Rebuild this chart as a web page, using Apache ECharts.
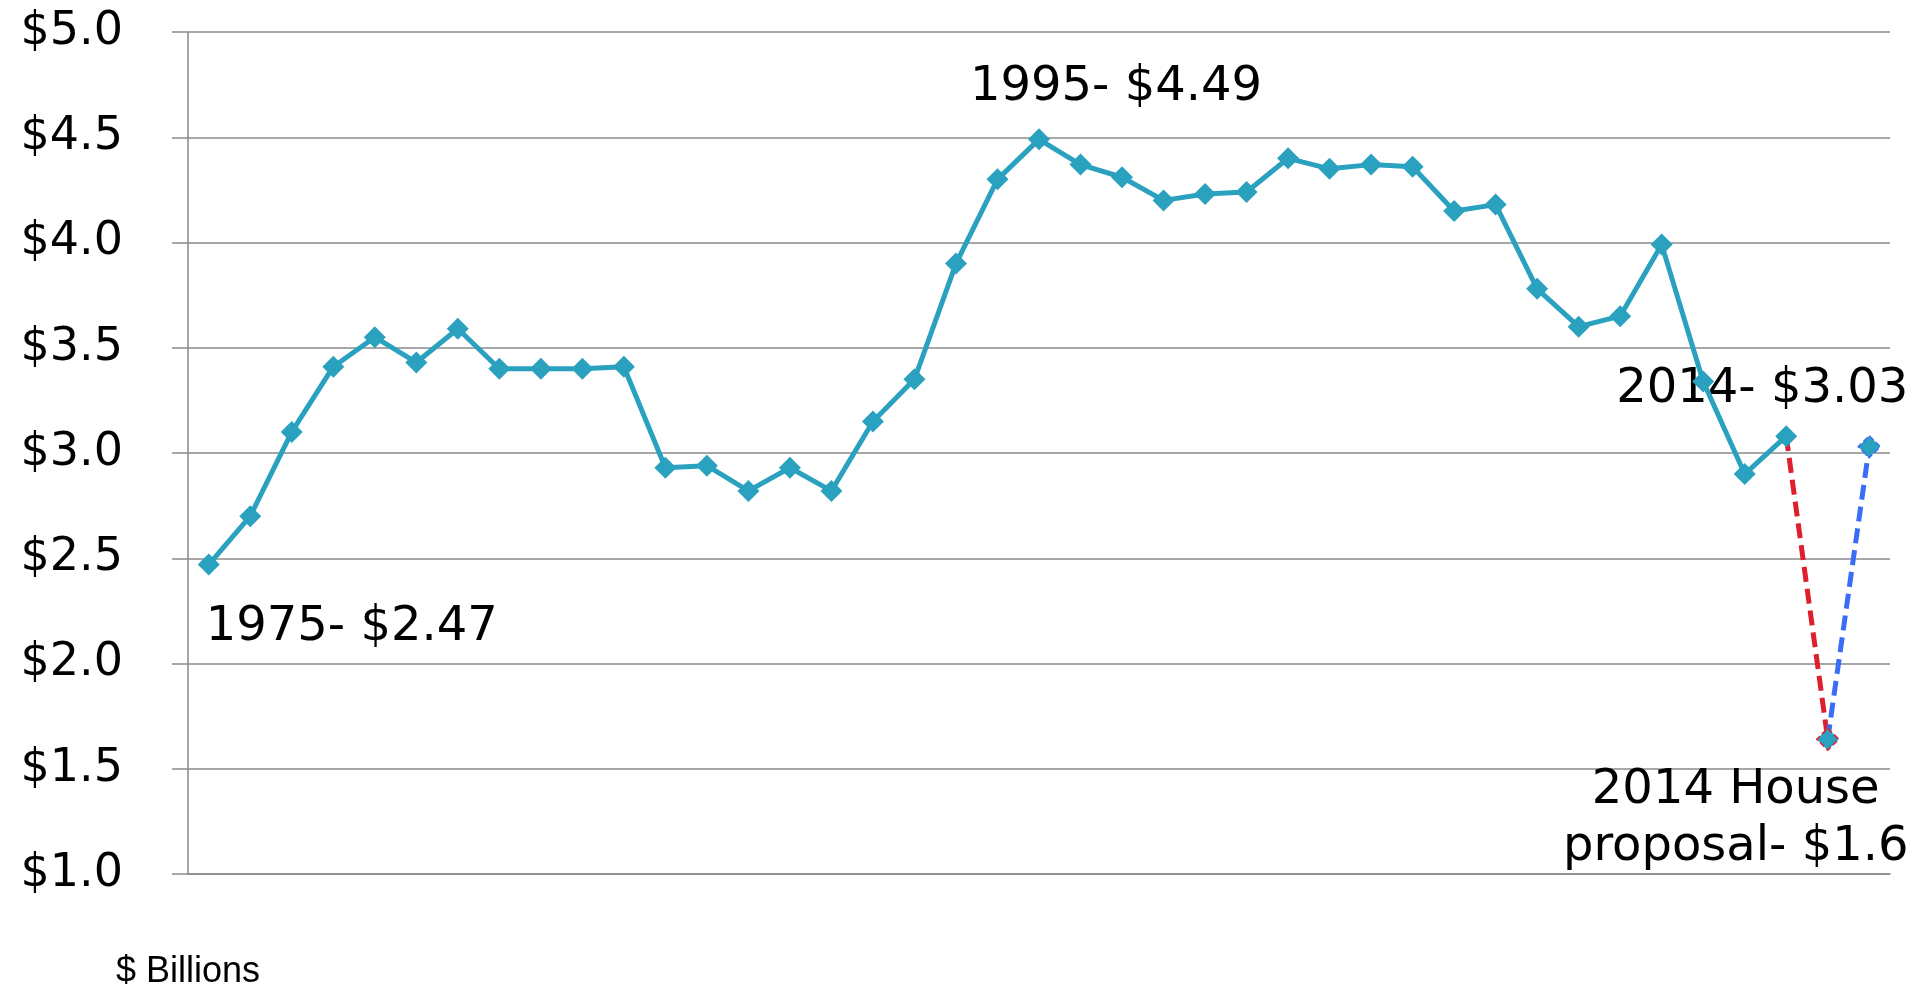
<!DOCTYPE html>
<html>
<head>
<meta charset="utf-8">
<script src="https://cdn.jsdelivr.net/npm/echarts@6/dist/echarts.min.js"></script>
<style>
html,body{margin:0;padding:0;background:#fff;}
#chart{width:1917px;height:989px;}
</style>
</head>
<body>
<div id="chart"></div>
<script>
// ---- data ----
const years = ['1975','1976','1977','1978','1979','1980','1981','1982','1983','1984','1985','1986','1987','1988','1989','1990','1991','1992','1993','1994','1995','1996','1997','1998','1999','2000','2001','2002','2003','2004','2005','2006','2007','2008','2009','2010','2011','2012','2013'];
const funding = [2.47,2.70,3.10,3.41,3.55,3.43,3.59,3.40,3.40,3.40,3.41,2.93,2.94,2.82,2.93,2.82,3.15,3.35,3.90,4.30,4.49,4.37,4.31,4.20,4.23,4.24,4.40,4.35,4.37,4.36,4.15,4.18,3.78,3.60,3.65,3.99,3.34,2.90,3.08];
const extraCategories = ['2014 House proposal', '2014'];
const houseProposal = 1.64;
const final2014 = 3.03;
const yTicks = [1.0, 1.5, 2.0, 2.5, 3.0, 3.5, 4.0, 4.5, 5.0];
const annotationText = {
  start: '1975- $2.47',
  peak: '1995- $4.49',
  final: '2014- $3.03',
  house: '2014 House\nproposal- $1.6'
};

// ---- build ----
const categories = years.concat(extraCategories);
const n = categories.length;
const TEAL = '#2aa1bf';
const RED = '#df1f2d';
const BLUE = '#3b6cf8';
const GRID = '#8a8a8a';
const annFont = {fontFamily: 'DejaVu Sans', fontSize: 48, color: '#000'};

function lbl(text, dx, dy, extra) {
  return Object.assign({
    show: true, position: 'inside', align: 'center', verticalAlign: 'middle',
    offset: [dx, dy], formatter: text
  }, annFont, extra || {});
}

const mainData = funding.map((v, i) => {
  if (i === 0) return {value: v, label: lbl(annotationText.start, 143, 63)};
  if (years[i] === '1995') return {value: v, label: lbl(annotationText.peak, 77, -52)};
  return v;
});
while (mainData.length < n) mainData.push(null);

const redData = new Array(n).fill(null);
redData[funding.length - 1] = {value: funding[funding.length - 1], symbol: 'none'};
redData[funding.length] = {value: houseProposal, label: lbl(annotationText.house, -92, 80, {lineHeight: 57})};

const blueData = new Array(n).fill(null);
blueData[funding.length] = {value: houseProposal, symbol: 'none'};
blueData[funding.length + 1] = {value: final2014, label: lbl(annotationText.final, -107, -57)};

const chart = echarts.init(document.getElementById('chart'));
chart.setOption({
  animation: false,
  backgroundColor: '#fff',
  grid: {left: 188, right: 27, top: 32, bottom: 115, containLabel: false, outerBoundsMode: 'none'},
  xAxis: {
    type: 'category',
    data: categories,
    boundaryGap: true,
    axisLine: {show: true, lineStyle: {color: GRID, width: 1.5}},
    axisTick: {show: false},
    axisLabel: {show: false},
    splitLine: {show: false}
  },
  yAxis: {
    type: 'value',
    min: yTicks[0], max: yTicks[yTicks.length - 1], interval: 0.5,
    name: '$ Billions',
    nameLocation: 'start',
    nameGap: 80,
    nameTextStyle: {fontFamily: 'Liberation Sans', fontSize: 36, color: '#000', align: 'center', verticalAlign: 'top'},
    axisLine: {show: true, lineStyle: {color: GRID, width: 1.5}},
    axisTick: {show: true, inside: false, length: 16, lineStyle: {color: GRID, width: 1.5}},
    axisLabel: {
      margin: 65,
      fontFamily: 'DejaVu Sans', fontSize: 46, color: '#000',
      formatter: v => '$' + v.toFixed(1)
    },
    splitLine: {show: true, lineStyle: {color: GRID, width: 1.5}}
  },
  series: [
    {
      name: 'red', type: 'line', data: redData, z: 2,
      symbol: 'diamond', symbolSize: 22,
      itemStyle: {color: TEAL, borderColor: RED, borderWidth: 1.5, borderType: 'dashed'},
      lineStyle: {color: RED, width: 5, type: [15, 7]},
      connectNulls: false
    },
    {
      name: 'blue', type: 'line', data: blueData, z: 2,
      symbol: 'diamond', symbolSize: 22,
      itemStyle: {color: TEAL, borderColor: BLUE, borderWidth: 1.5, borderType: 'dashed'},
      lineStyle: {color: BLUE, width: 5, type: [15, 7]},
      connectNulls: false
    },
    {
      name: 'funding', type: 'line', data: mainData, z: 3,
      symbol: 'diamond', symbolSize: 22,
      itemStyle: {color: TEAL},
      lineStyle: {color: TEAL, width: 5},
      connectNulls: false
    }
  ]
});
</script>
</body>
</html>
